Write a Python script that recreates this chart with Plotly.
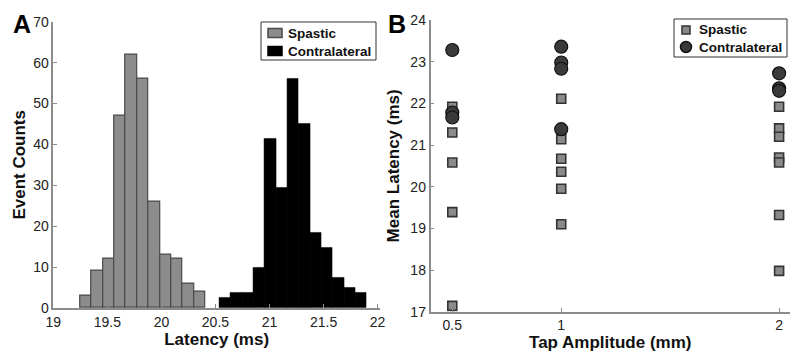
import plotly.graph_objects as go

# ---------------- Data ----------------
# Panel A: histogram counts
spastic_bin_start = 19.247
spastic_bin_width = 0.1056
spastic_counts = [3, 9, 12, 47, 62, 56, 26, 13, 12, 6, 4]

contra_bin_start = 20.535
contra_bin_width = 0.1048
contra_counts = [2.4, 3.7, 3.7, 9.8, 41.3, 29.3, 56, 45, 18.3, 14.7, 7.3, 4.9, 3.7]

# Panel B: mean latency per tap amplitude
amplitudes = [0.5, 1, 2]
spastic_latency = {
    0.5: [21.92, 21.30, 20.58, 19.39, 17.14],
    1: [22.11, 21.14, 20.67, 20.36, 19.95, 19.10],
    2: [21.92, 21.40, 21.20, 20.70, 20.58, 19.32, 17.98],
}
contra_latency = {
    0.5: [23.28, 21.78, 21.66],
    1: [23.36, 22.98, 22.83, 21.38],
    2: [22.72, 22.36, 22.30],
}

series_names = ["Spastic", "Contralateral"]
xticks_a = [19, 19.5, 20, 20.5, 21, 21.5, 22]
yticks_a = [0, 10, 20, 30, 40, 50, 60, 70]
xticks_b = [0.5, 1, 2]
yticks_b = [17, 18, 19, 20, 21, 22, 23, 24]

# ---------------- Styling ----------------
W, H = 791, 352
FONT = "Liberation Sans, Arial, sans-serif"
AXIS_COLOR = "#8c8c8c"
TICK_FONT = dict(family=FONT, size=14, color="#222222")
TITLE_FONT = dict(family=FONT, size=17, color="#111111")
LEG_FONT = dict(family=FONT, size=13.5, color="#111111")

SP_BAR = "#8c8c8c"
SP_BAR_EDGE = "#4a4a4a"
CT_BAR = "#000000"
SP_MK = "#8a8a8a"
SP_MK_EDGE = "#333333"
CT_MK = "#3a3a3a"
CT_MK_EDGE = "#111111"

fig = go.Figure()

sp_x = [spastic_bin_start + spastic_bin_width * (i + 0.5) for i in range(len(spastic_counts))]
ct_x = [contra_bin_start + contra_bin_width * (i + 0.5) for i in range(len(contra_counts))]

fig.add_trace(go.Bar(
    x=sp_x, y=spastic_counts, width=spastic_bin_width,
    marker=dict(color=SP_BAR, line=dict(color=SP_BAR_EDGE, width=1.2)),
    name=series_names[0], xaxis="x", yaxis="y", showlegend=False,
))
fig.add_trace(go.Bar(
    x=ct_x, y=contra_counts, width=contra_bin_width,
    marker=dict(color=CT_BAR, line=dict(color=CT_BAR, width=0.5)),
    name=series_names[1], xaxis="x", yaxis="y", showlegend=False,
))

sx, sy, cx, cy = [], [], [], []
for a in amplitudes:
    for v in spastic_latency[a]:
        sx.append(a); sy.append(v)
    for v in contra_latency[a]:
        cx.append(a); cy.append(v)

fig.add_trace(go.Scatter(
    x=sx, y=sy, mode="markers", name=series_names[0],
    marker=dict(symbol="square", size=9, color=SP_MK, line=dict(color=SP_MK_EDGE, width=1.6)),
    xaxis="x2", yaxis="y2", showlegend=False,
))
fig.add_trace(go.Scatter(
    x=cx, y=cy, mode="markers", name=series_names[1],
    marker=dict(symbol="circle", size=13, color=CT_MK, line=dict(color=CT_MK_EDGE, width=1.2)),
    xaxis="x2", yaxis="y2", showlegend=False,
))


def px_x(p):
    return p / W


def px_y(p):
    return 1 - p / H


axis_common = dict(
    showline=True, linecolor=AXIS_COLOR, linewidth=1.5, mirror=False,
    ticks="inside", ticklen=4, tickcolor=AXIS_COLOR, tickwidth=1,
    showgrid=False, zeroline=False, tickfont=TICK_FONT, automargin=False,
)

shapes = []
annotations = []


def legend_box(x0, y0, x1, y1, items):
    """items: list of (kind, cx, cy, w, h, fill, edge, label, tx)"""
    shapes.append(dict(type="rect", xref="paper", yref="paper",
                       x0=px_x(x0), x1=px_x(x1), y0=px_y(y1), y1=px_y(y0),
                       line=dict(color="#333333", width=1), fillcolor="white", layer="above"))
    for kind, c_x, c_y, w, h, fill, edge, label, tx in items:
        shapes.append(dict(type=kind, xref="paper", yref="paper",
                           x0=px_x(c_x - w / 2), x1=px_x(c_x + w / 2),
                           y0=px_y(c_y + h / 2), y1=px_y(c_y - h / 2),
                           line=dict(color=edge, width=1.5), fillcolor=fill, layer="above"))
        annotations.append(dict(text="<b>%s</b>" % label, x=px_x(tx), y=px_y(c_y),
                                xref="paper", yref="paper", xanchor="left", yanchor="middle",
                                showarrow=False, font=LEG_FONT))


legend_box(261, 22, 376, 60, [
    ("rect", 275, 33, 14, 9, SP_BAR, SP_BAR_EDGE, series_names[0], 286),
    ("rect", 275, 51, 14, 9, CT_BAR, CT_BAR, series_names[1], 286),
])
legend_box(674, 19, 787, 57, [
    ("rect", 686, 30, 8, 8, SP_MK, SP_MK_EDGE, series_names[0], 697),
    ("circle", 686, 47, 11, 11, CT_MK, CT_MK_EDGE, series_names[1], 697),
])

annotations += [
    dict(text="<b>A</b>", x=px_x(11), y=px_y(8), xref="paper", yref="paper",
         xanchor="left", yanchor="top", showarrow=False,
         font=dict(family=FONT, size=25, color="#000000")),
    dict(text="<b>B</b>", x=px_x(386), y=px_y(8), xref="paper", yref="paper",
         xanchor="left", yanchor="top", showarrow=False,
         font=dict(family=FONT, size=25, color="#000000")),
]

fig.update_layout(
    width=W, height=H,
    margin=dict(l=0, r=0, t=0, b=0, autoexpand=False),
    paper_bgcolor="white", plot_bgcolor="white",
    barmode="overlay", bargap=0,
    font=dict(family=FONT, color="#111111"),
    showlegend=False,
    xaxis=dict(domain=[px_x(53.3), px_x(380)], range=[19, 22.022],
               tickvals=xticks_a, ticktext=[str(t) for t in xticks_a],
               title=dict(text="<b>Latency (ms)</b>", font=TITLE_FONT, standoff=2),
               anchor="y", **axis_common),
    yaxis=dict(domain=[px_y(308), px_y(21.7)], range=[0, 70],
               tickvals=yticks_a,
               title=dict(text="<b>Event Counts</b>", font=TITLE_FONT, standoff=3),
               anchor="x", **axis_common),
    xaxis2=dict(domain=[px_x(430.5), px_x(790)], range=[0.4, 2.05],
                tickvals=xticks_b, ticktext=["0.5", "1", "2"],
                title=dict(text="<b>Tap Amplitude (mm)</b>", font=TITLE_FONT, standoff=2),
                anchor="y2", **axis_common),
    yaxis2=dict(domain=[px_y(311.7), px_y(20)], range=[17, 24],
                tickvals=yticks_b,
                title=dict(text="<b>Mean Latency (ms)</b>", font=TITLE_FONT, standoff=6),
                anchor="x2", **axis_common),
    shapes=shapes,
    annotations=annotations,
)

fig.write_html(
    "out.html",
    config={"displayModeBar": False},
    post_script="document.body.style.margin='0';document.body.style.overflow='hidden';",
)
